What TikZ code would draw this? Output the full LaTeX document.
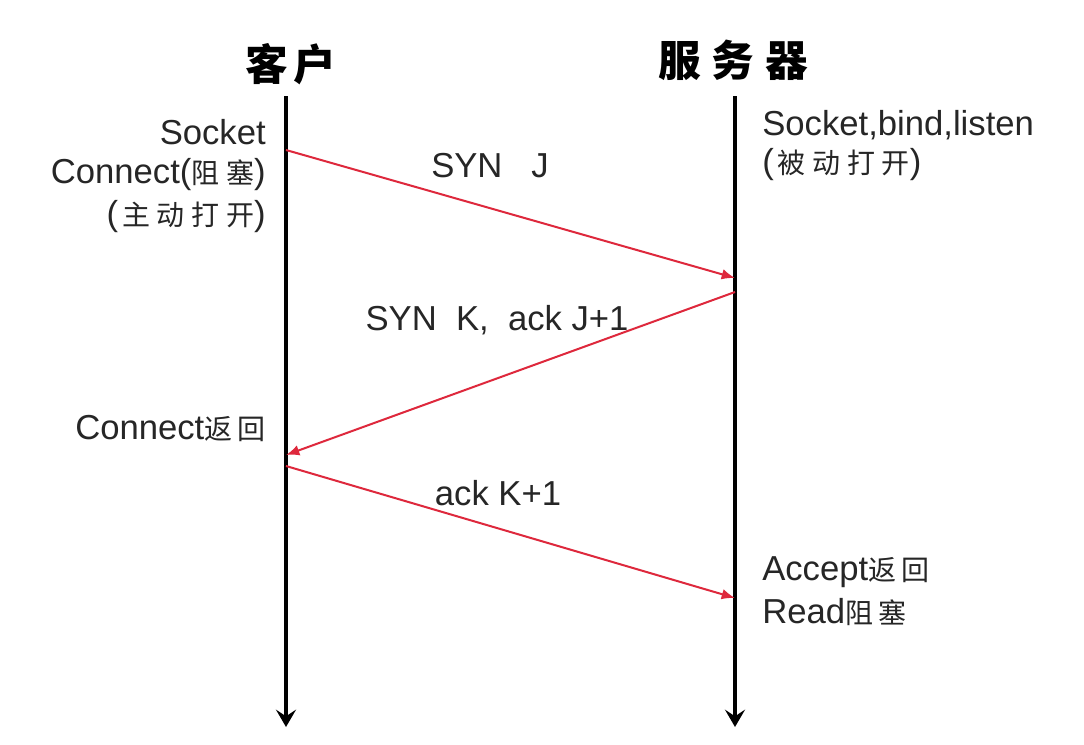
\documentclass[tikz,border=0pt]{standalone}
\usepackage{fontspec}
\setmainfont{Liberation Sans}
\newfontfamily\cjk{Noto Sans CJK SC}
\usetikzlibrary{arrows.meta}
\definecolor{msgred}{RGB}{222,40,60}
\newcommand{\zh}[1]{{\cjk\fontsize{21pt}{24pt}\selectfont #1}}
\newcommand{\zs}{\hspace{5pt}}
\tikzset{
  life/.style={line width=2.3pt, black, -{Stealth[length=13pt,width=15pt,inset=5pt]}},
  msg/.style={line width=1.5pt, msgred, -{Latex[length=10pt,width=8pt]}},
  lbl/.style={font=\fontsize{26pt}{30pt}\selectfont, text=black!85, inner sep=0pt},
  head/.style={font=\cjk\bfseries\fontsize{32pt}{36pt}\selectfont, inner sep=0pt},
}
\begin{document}
\begin{tikzpicture}[x=0.75pt,y=-0.75pt]
\useasboundingbox[fill=white] (0,0) rectangle (1084,744);
% headers
\node[head] (hc) at (291,64) {客\hspace{4pt}户};
\node[head] (hs) at (733,60) {服\hspace{8pt}务\hspace{8pt}器};
% lifelines
\coordinate (ct) at (286,96);
\coordinate (cb) at (286,727);
\coordinate (st) at (735,96);
\coordinate (sb) at (735,727);
\draw[life] (ct) -- (cb);
\draw[life] (st) -- (sb);
% message endpoints
\coordinate (m1a) at (286,150);
\coordinate (m1b) at (735,278);
\coordinate (m2a) at (735,292);
\coordinate (m2b) at (286,455);
\coordinate (m3a) at (286,466);
\coordinate (m3b) at (735,598);
\draw[msg] (m1a) -- (m1b);
\draw[msg] (m2a) -- (m2b);
\draw[msg] (m3a) -- (m3b);
% client labels
\node[lbl, anchor=east] (l1) at (266,132) {Socket};
\node[lbl, anchor=east] (l2) at (266,175) {Connect(\zh{阻\zs 塞})};
\node[lbl, anchor=east] (l3) at (266,217) {(\hspace{3pt}\zh{主\zs 动\zs 打\zs 开})};
\node[lbl, anchor=east] (l4) at (266,428) {Connect\zh{返\hspace{4pt}回}};
% server labels
\node[lbl, anchor=west] (r1) at (762,125) {Socket,bind,listen};
\node[lbl, anchor=west] (r2) at (762,165) {(\hspace{3pt}\zh{被\zs 动\zs 打\zs 开})};
\node[lbl, anchor=west] (r3) at (762,572) {Accept\zh{返\hspace{4pt}回}};
\node[lbl, anchor=west] (r4) at (762,612) {Read\zh{阻\hspace{4pt}塞}};
% message labels
\node[lbl] (t1) at (490,166) {SYN\ \ \ J};
\node[lbl] (t2) at (497,320) {SYN\ \ K,\ \ ack J+1};
\node[lbl] (t3) at (498,493) {ack K+1};
\end{tikzpicture}
\end{document}
